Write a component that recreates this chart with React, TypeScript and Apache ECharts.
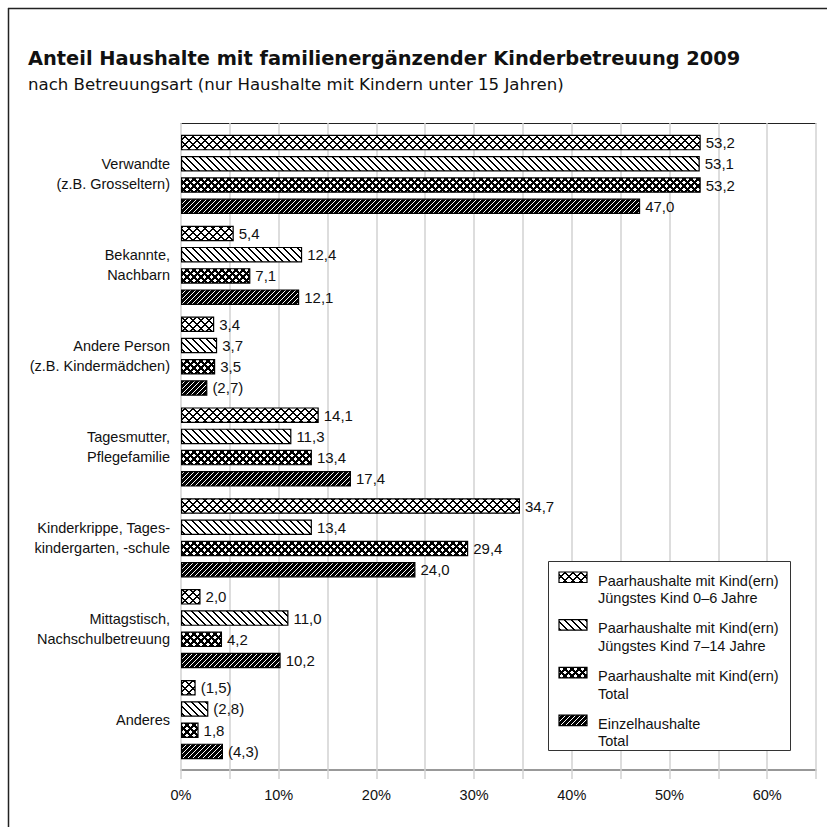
import React, { useEffect, useRef } from 'react';
import * as echarts from 'echarts';

const categories = [
  'Verwandte\n(z.B. Grosseltern)',
  'Bekannte,\nNachbarn',
  'Andere Person\n(z.B. Kindermädchen)',
  'Tagesmutter,\nPflegefamilie',
  'Kinderkrippe, Tages-\nkindergarten, -schule',
  'Mittagstisch,\nNachschulbetreuung',
  'Anderes',
];

const seriesNames = [
  'Paarhaushalte mit Kind(ern) Jüngstes Kind 0–6 Jahre',
  'Paarhaushalte mit Kind(ern) Jüngstes Kind 7–14 Jahre',
  'Paarhaushalte mit Kind(ern) Total',
  'Einzelhaushalte Total',
];
const legendLine1 = ['Paarhaushalte mit Kind(ern)', 'Paarhaushalte mit Kind(ern)', 'Paarhaushalte mit Kind(ern)', 'Einzelhaushalte'];
const legendLine2 = ['Jüngstes Kind 0–6 Jahre', 'Jüngstes Kind 7–14 Jahre', 'Total', 'Total'];

const paarKind0bis6 = [53.2, 5.4, 3.4, 14.1, 34.7, 2.0, 1.5];
const paarKind7bis14 = [53.1, 12.4, 3.7, 11.3, 13.4, 11.0, 2.8];
const paarTotal = [53.2, 7.1, 3.5, 13.4, 29.4, 4.2, 1.8];
const einzelTotal = [47.0, 12.1, 2.7, 17.4, 24.0, 10.2, 4.3];

// values shown in parentheses (small sample)
const klammer0bis6 = [false, false, false, false, false, false, true];
const klammer7bis14 = [false, false, false, false, false, false, true];
const klammerPaarTotal = [false, false, false, false, false, false, false];
const klammerEinzel = [false, false, true, false, false, false, true];

const xMax = 65;
const xStep = 5;
const xLabelStep = 10;
const xLabelMax = 60;

const FONT = '"Liberation Sans", Arial, sans-serif';

// pixel tile: ink where diagonal distance < width
function makeTile(size: number, bg: number, ink: number, w: number, fwd: boolean, back: boolean) {
  const c = document.createElement('canvas');
  c.width = size;
  c.height = size;
  const ctx = c.getContext('2d')!;
  const img = ctx.createImageData(size, size);
  for (let y = 0; y < size; y++) {
    for (let x = 0; x < size; x++) {
      const a = (x + y) % size;
      const b = (((x - y) % size) + size) % size;
      const on = (fwd && a < w) || (back && b < w);
      const v = on ? ink : bg;
      const o = (y * size + x) * 4;
      img.data[o] = v;
      img.data[o + 1] = v;
      img.data[o + 2] = v;
      img.data[o + 3] = 255;
    }
  }
  ctx.putImageData(img, 0, 0);
  return { image: c, repeat: 'repeat', imageWidth: size, imageHeight: size } as any;
}

export default function App() {
  const ref = useRef<HTMLDivElement>(null);
  useEffect(() => {
    if (!ref.current) return;
    const chart = echarts.init(ref.current, null, { renderer: 'svg' });
    const patterns = [
      makeTile(8, 255, 0, 2, true, true),
      makeTile(7, 255, 0, 2, false, true),
      makeTile(7, 255, 0, 3, true, true),
      makeTile(5, 0, 255, 1, true, false),
    ];
    const data = [paarKind0bis6, paarKind7bis14, paarTotal, einzelTotal];
    const klammer = [klammer0bis6, klammer7bis14, klammerPaarTotal, klammerEinzel];

    const legendGraphics: any[] = [
      {
        type: 'rect',
        shape: { x: 548.5, y: 561.5, width: 242, height: 189 },
        style: { fill: '#fff', stroke: '#333', lineWidth: 1 },
        z: 10,
      },
    ];
    for (let i = 0; i < 4; i++) {
      const top = 572 + i * 47.7;
      legendGraphics.push({
        type: 'rect',
        shape: { x: 559, y: top, width: 28, height: 10.5 },
        style: { fill: patterns[i], stroke: '#000', lineWidth: 1.2 },
        z: 11,
      });
      legendGraphics.push({
        type: 'text',
        x: 598,
        y: top,
        style: {
          text: legendLine1[i] + '\n' + legendLine2[i],
          fontSize: 14.5,
          fontFamily: FONT,
          lineHeight: 17.5,
          fill: '#111',
          verticalAlign: 'top',
          align: 'left',
        },
        z: 11,
      });
    }

    const lightGray = '#d2d2d2';
    const xBase = { type: 'value', min: 0, max: xMax, interval: xStep, gridIndex: 0 };

    chart.setOption({
      animation: false,
      backgroundColor: '#fff',
      title: {
        left: 28,
        top: 47,
        padding: 0,
        itemGap: 5,
        text: 'Anteil Haushalte mit familienergänzender Kinderbetreuung 2009',
        subtext: 'nach Betreuungsart (nur Haushalte mit Kindern unter 15 Jahren)',
        textStyle: { fontFamily: '"DejaVu Sans", sans-serif', fontWeight: 'bold', fontSize: 19.4, color: '#111', lineHeight: 22 },
        subtextStyle: { fontFamily: '"DejaVu Sans", sans-serif', fontSize: 16.6, color: '#111', lineHeight: 20 },
      },
      grid: { left: 181, right: 11, top: 129, bottom: 62, containLabel: false },
      xAxis: [
        {
          ...xBase,
          position: 'bottom',
          offset: 5,
          axisLine: { show: true, lineStyle: { color: '#777', width: 1.5 } },
          axisTick: { show: true, length: 9, lineStyle: { color: lightGray, width: 1.5 } },
          axisLabel: {
            margin: 17,
            fontSize: 14.5,
            fontFamily: FONT,
            color: '#111',
            formatter: (v: number) => (v % xLabelStep === 0 && v <= xLabelMax ? v + '%' : ''),
          },
          splitLine: { show: true, lineStyle: { color: lightGray, width: 1.5 } },
        },
        {
          ...xBase,
          position: 'top',
          offset: 6,
          axisLine: { show: true, lineStyle: { color: '#222', width: 1 } },
          axisTick: { show: true, inside: true, length: 6, lineStyle: { color: lightGray, width: 1.5 } },
          axisLabel: { show: false },
          splitLine: { show: false },
        },
        {
          ...xBase,
          position: 'bottom',
          offset: 0,
          axisLine: { show: false },
          axisTick: { show: true, length: 5, lineStyle: { color: lightGray, width: 1.5 } },
          axisLabel: { show: false },
          splitLine: { show: false },
        },
      ],
      yAxis: {
        type: 'category',
        inverse: true,
        data: categories,
        axisLine: { show: false },
        axisTick: { show: false },
        axisLabel: { margin: 11, fontSize: 14.5, fontFamily: FONT, color: '#111', lineHeight: 20, align: 'right' },
      },
      series: data.map((d, i) => ({
        type: 'bar',
        name: seriesNames[i],
        data: d,
        xAxisIndex: 0,
        barWidth: 15.5,
        barGap: '37%',
        silent: true,
        itemStyle: { color: patterns[i], borderColor: '#000', borderWidth: 1.2 },
        label: {
          show: true,
          position: 'right',
          distance: 5,
          fontSize: 15,
          fontFamily: FONT,
          color: '#111',
          formatter: (p: any) => {
            const s = d[p.dataIndex].toFixed(1).replace('.', ',');
            return klammer[i][p.dataIndex] ? '(' + s + ')' : s;
          },
        },
      })),
      graphic: [
        { type: 'line', shape: { x1: 8, y1: 8.5, x2: 827, y2: 8.5 }, style: { stroke: '#222', lineWidth: 1.5 } },
        { type: 'line', shape: { x1: 8.5, y1: 8, x2: 8.5, y2: 827 }, style: { stroke: '#222', lineWidth: 1.5 } },
        ...legendGraphics,
      ],
    });
    return () => chart.dispose();
  }, []);
  return <div ref={ref} style={{ position: 'fixed', left: 0, top: 0, width: 827, height: 827 }} />;
}
